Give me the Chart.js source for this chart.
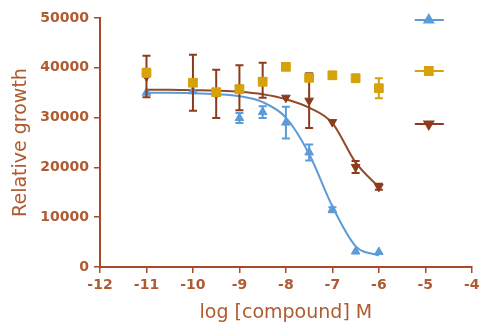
<!DOCTYPE html>
<html>
<head>
<meta charset="utf-8">
<script src="https://cdn.jsdelivr.net/npm/chart.js@4.4.1/dist/chart.umd.min.js"></script>
<style>
  html, body { margin: 0; padding: 0; background: #ffffff; }
  #wrap { width: 479px; height: 327px; position: relative; }
</style>
</head>
<body>
<div id="wrap"><canvas id="doseChart"></canvas></div>
<script>
// measured log concentrations
const doses = [-11, -10, -9.5, -9, -8.5, -8, -7.5, -7, -6.5, -6];

const blueMean = [35000, 35300, 34800, 29900, 31100, 29000, 23000, 11500, 3100, 3000];
const blueErr = [0, 0, 0, 1000, 1200, 3200, 1600, 500, 0, 0];

const goldMean = [39000, 37000, 35100, 35700, 37200, 40200, 38000, 38500, 37900, 35900];
const goldErr = [800, 0, 0, 0, 0, 0, 0, 0, 0, 2000];

const brownMean = [38250, 37000, 34750, 36000, 37500, 34000, 33400, 29100, 20100, 16100];
const brownErr = [4150, 5600, 4850, 4500, 3500, 0, 5500, 0, 1200, 600];

// fitted curves
const curveX = [-11, -10.5, -10, -9.5, -9, -8.5, -8, -7.5, -7, -6.5, -6];
const blueCurve = [35000, 35000, 34900, 34700, 34300, 33100, 30000, 22700, 12200, 4200, 2300];
const brownCurve = [35600, 35600, 35500, 35400, 35200, 34700, 33700, 32000, 28900, 21000, 16000];

const yTicks = [0, 10000, 20000, 30000, 40000, 50000];

const AXIS = "#a84a2a";
const TEXT = "#b05a30";
const BLUE = "#5b9bd8";
const GOLD = "#d6a20a";
const BROWN = "#8c3c1c";

const pts = (xs, ys) => xs.map((x, i) => ({ x, y: ys[i] }));

const errorBars = {
  id: "errorBars",
  beforeDatasetDraw(chart, args) {
    const ds = chart.data.datasets[args.index];
    if (!ds.errors) return;
    const { ctx } = chart;
    const y = chart.scales.y;
    ctx.save();
    ctx.strokeStyle = ds.borderColor;
    ctx.lineWidth = 2;
    args.meta.data.forEach((el, i) => {
      const e = ds.errors[i];
      if (!e) return;
      const top = y.getPixelForValue(ds.data[i].y + e);
      const bot = y.getPixelForValue(ds.data[i].y - e);
      ctx.beginPath();
      ctx.moveTo(el.x, top); ctx.lineTo(el.x, bot);
      ctx.moveTo(el.x - 4, top); ctx.lineTo(el.x + 4, top);
      ctx.moveTo(el.x - 4, bot); ctx.lineTo(el.x + 4, bot);
      ctx.stroke();
    });
    ctx.restore();
  },
};

const sideLegend = {
  id: "sideLegend",
  afterDraw(chart) {
    const { ctx, chartArea } = chart;
    const cx = chartArea.right - 43;
    const rows = [
      { dy: 2, color: BLUE, style: "triangle", rot: 0, r: 5 },
      { dy: 53, color: GOLD, style: "rect", rot: 0, r: 5.5 },
      { dy: 106, color: BROWN, style: "triangle", rot: 180, r: 5 },
    ];
    ctx.save();
    rows.forEach((row) => {
      const cy = chartArea.top + row.dy;
      ctx.strokeStyle = row.color;
      ctx.lineWidth = 2;
      ctx.beginPath();
      ctx.moveTo(cx - 14, cy); ctx.lineTo(cx + 15, cy);
      ctx.stroke();
      ctx.fillStyle = row.color;
      Chart.helpers.drawPoint(ctx, { pointStyle: row.style, radius: row.r, rotation: row.rot, borderWidth: 1 }, cx, cy);
    });
    ctx.restore();
  },
};

function pointSet(label, data, errors, color, style, rot, radius, order) {
  return {
    type: "scatter",
    label,
    data,
    errors,
    order,
    showLine: false,
    borderColor: color,
    backgroundColor: color,
    pointStyle: style,
    rotation: rot,
    pointRadius: radius,
    pointBorderWidth: 1,
  };
}

function curveSet(label, data, color, order) {
  return {
    type: "line",
    label,
    data,
    order,
    borderColor: color,
    borderWidth: 2,
    pointRadius: 0,
    fill: false,
    cubicInterpolationMode: "monotone",
  };
}

new Chart(document.getElementById("doseChart"), {
  data: {
    datasets: [
      pointSet("gold", pts(doses, goldMean), goldErr, GOLD, "rect", 0, 6.2, 0),
      pointSet("brown", pts(doses, brownMean), brownErr, BROWN, "triangle", 180, 5, 1),
      pointSet("blue", pts(doses, blueMean), blueErr, BLUE, "triangle", 0, 5, 2),
      curveSet("brown fit", pts(curveX, brownCurve), "#8f4a2a", 3),
      curveSet("blue fit", pts(curveX, blueCurve), BLUE, 4),
    ],
  },
  options: {
    responsive: true,
    maintainAspectRatio: false,
    animation: false,
    layout: { padding: { top: 18, right: 7, left: 0, bottom: 0 } },
    plugins: { legend: { display: false }, tooltip: { enabled: false } },
    scales: {
      x: {
        type: "linear",
        min: -12,
        max: -4,
        afterFit(s) { s.height = 60; s.paddingLeft = 0; s.paddingRight = 0; },
        ticks: { stepSize: 1, color: TEXT, padding: 4, font: { family: "DejaVu Sans", size: 14, weight: "bold" } },
        grid: { drawOnChartArea: false, drawTicks: true, tickLength: 6, color: AXIS, lineWidth: 1.5 },
        border: { color: AXIS, width: 2 },
        title: {
          display: true,
          text: "log [compound] M",
          color: TEXT,
          padding: { top: 0, bottom: 3 },
          font: { family: "DejaVu Sans", size: 19 },
        },
      },
      y: {
        type: "linear",
        min: 0,
        max: 50000,
        afterFit(s) { s.width = 100; },
        afterBuildTicks(s) { s.ticks = yTicks.map((v) => ({ value: v })); },
        ticks: {
          color: TEXT,
          padding: 5,
          font: { family: "DejaVu Sans", size: 14, weight: "bold" },
          callback: (v) => String(v),
        },
        grid: { drawOnChartArea: false, drawTicks: true, tickLength: 6, color: AXIS, lineWidth: 1.5 },
        border: { color: AXIS, width: 2 },
        title: {
          display: true,
          text: "Relative growth",
          color: TEXT,
          padding: { top: 10, bottom: 0 },
          font: { family: "DejaVu Sans", size: 19 },
        },
      },
    },
  },
  plugins: [errorBars, sideLegend],
});
</script>
</body>
</html>
